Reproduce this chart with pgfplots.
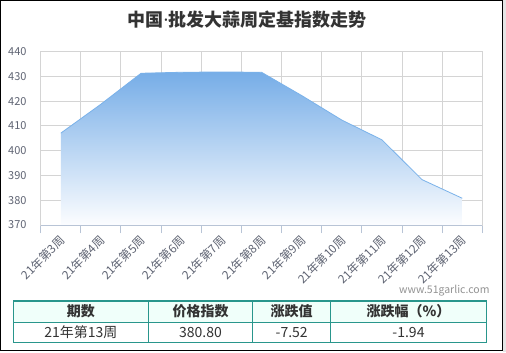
\documentclass[border=0pt]{standalone}
\usepackage{fontspec}
\setmainfont{Noto Sans CJK SC}
\newfontfamily\latinfont{Noto Sans}
\usepackage{pgfplots}
\pgfplotsset{compat=1.18}
\definecolor{gridc}{RGB}{212,212,212}
\definecolor{axc}{RGB}{184,196,214}
\definecolor{labc}{RGB}{95,100,115}
\definecolor{titlec}{RGB}{51,51,51}
\definecolor{linec}{RGB}{122,178,234}
\definecolor{filltop}{RGB}{118,173,231}
\definecolor{fillbot}{RGB}{252,253,255}
\definecolor{teal}{RGB}{41,150,140}
\definecolor{mint}{RGB}{240,255,250}
\begin{document}
\begin{tikzpicture}
\begin{scope}[x=1bp,y=1bp]
\path[use as bounding box] (0,0) rectangle (506,-352);
\fill[white] (0,0) rectangle (506,-352);
\fill[gray!20] (503,0) rectangle (506,-352);
\draw[black, line width=1.2bp] (0.6,-0.6) rectangle (502.4,-350.6);
\node[font=\bfseries\fontsize{18bp}{20bp}\selectfont, text=titlec] at (247,-20) {中国{\latinfont\bfseries ·}批发大蒜周定基指数走势};
\end{scope}
\begin{axis}[
  at={(40.7bp,-225bp)}, anchor=south west,
  width=441.6bp, height=173.3bp, scale only axis,
  xmin=-0.5, xmax=10.5, ymin=370, ymax=440,
  xtick={0,...,10},
  xticklabels={21年第3周,21年第4周,21年第5周,21年第6周,21年第7周,21年第8周,21年第9周,21年第10周,21年第11周,21年第12周,21年第13周},
  minor xtick={-0.5,0.5,...,10.5},
  ytick={370,380,...,440},
  xminorgrids, ymajorgrids,
  minor x grid style={gridc, line width=1bp},
  major y grid style={gridc, line width=1bp},
  axis line style={gridc, line width=1bp},
  major tick length=0pt,
  minor tick length=8bp,
  xtick align=outside,
  tick pos=left,
  minor x tick style={axc, line width=1bp},
  major x tick style={draw=none},
  ytick style={draw=none},
  /pgf/number format/assume math mode=true,
  yticklabel style={font=\fontsize{11bp}{12bp}\selectfont, text=labc, inner sep=0pt, xshift=-14bp},
  xticklabel style={font=\fontsize{11.8bp}{13bp}\selectfont, text=labc, xshift=-2bp, yshift=-9bp, rotate=45, anchor=north east, inner sep=0pt},
  clip=false,
]
\addplot[draw=none, top color=filltop, bottom color=fillbot, shading angle=0] coordinates {
  (0,370) (0,407.1) (1,418.8) (2,431.3) (3,431.7) (4,431.8) (5,431.7) (6,422.3) (7,412.4) (8,404.4) (9,388.32) (10,380.80) (10,370)
} -- cycle;
\addplot[draw=linec, line width=0.8bp, mark=none] coordinates {
  (0,407.1) (1,418.8) (2,431.3) (3,431.7) (4,431.8) (5,431.7) (6,422.3) (7,412.4) (8,404.4) (9,388.32) (10,380.80)
};
\draw[axc, line width=1bp] (rel axis cs:0,0) -- (rel axis cs:1,0);
\end{axis}
\begin{scope}[x=1bp,y=1bp]
\node[font=\fontsize{10.5bp}{12bp}\selectfont, text=gray!85, anchor=east] at (493,-291) {www.51garlic.com};
\fill[mint] (13.3,-301) rectangle (486.3,-322.3);
\draw[teal, line width=1.5bp] (13.3,-301) rectangle (486.3,-342.7);
\draw[teal, line width=1.5bp] (13.3,-322.3) -- (486.3,-322.3);
\foreach \xx in {148.3,252.7,330.7} \draw[teal, line width=1.5bp] (\xx,-301) -- (\xx,-342.7);
\begin{scope}[every node/.style={text=titlec}]
\node[font=\bfseries\fontsize{14bp}{16bp}\selectfont] at (80.8,-311.6) {期数};
\node[font=\bfseries\fontsize{14bp}{16bp}\selectfont] at (200.5,-311.6) {价格指数};
\node[font=\bfseries\fontsize{14bp}{16bp}\selectfont] at (291.7,-311.6) {涨跌值};
\node[font=\bfseries\fontsize{14bp}{16bp}\selectfont] at (408.5,-311.6) {涨跌幅（\%）};
\node[font=\fontsize{14bp}{16bp}\selectfont] at (80.8,-332.5) {21年第13周};
\node[font=\fontsize{14bp}{16bp}\selectfont] at (200.5,-332.5) {380.80};
\node[font=\fontsize{14bp}{16bp}\selectfont] at (291.7,-332.5) {-7.52};
\node[font=\fontsize{14bp}{16bp}\selectfont] at (408.5,-332.5) {-1.94};
\end{scope}
\end{scope}
\end{tikzpicture}
\end{document}
